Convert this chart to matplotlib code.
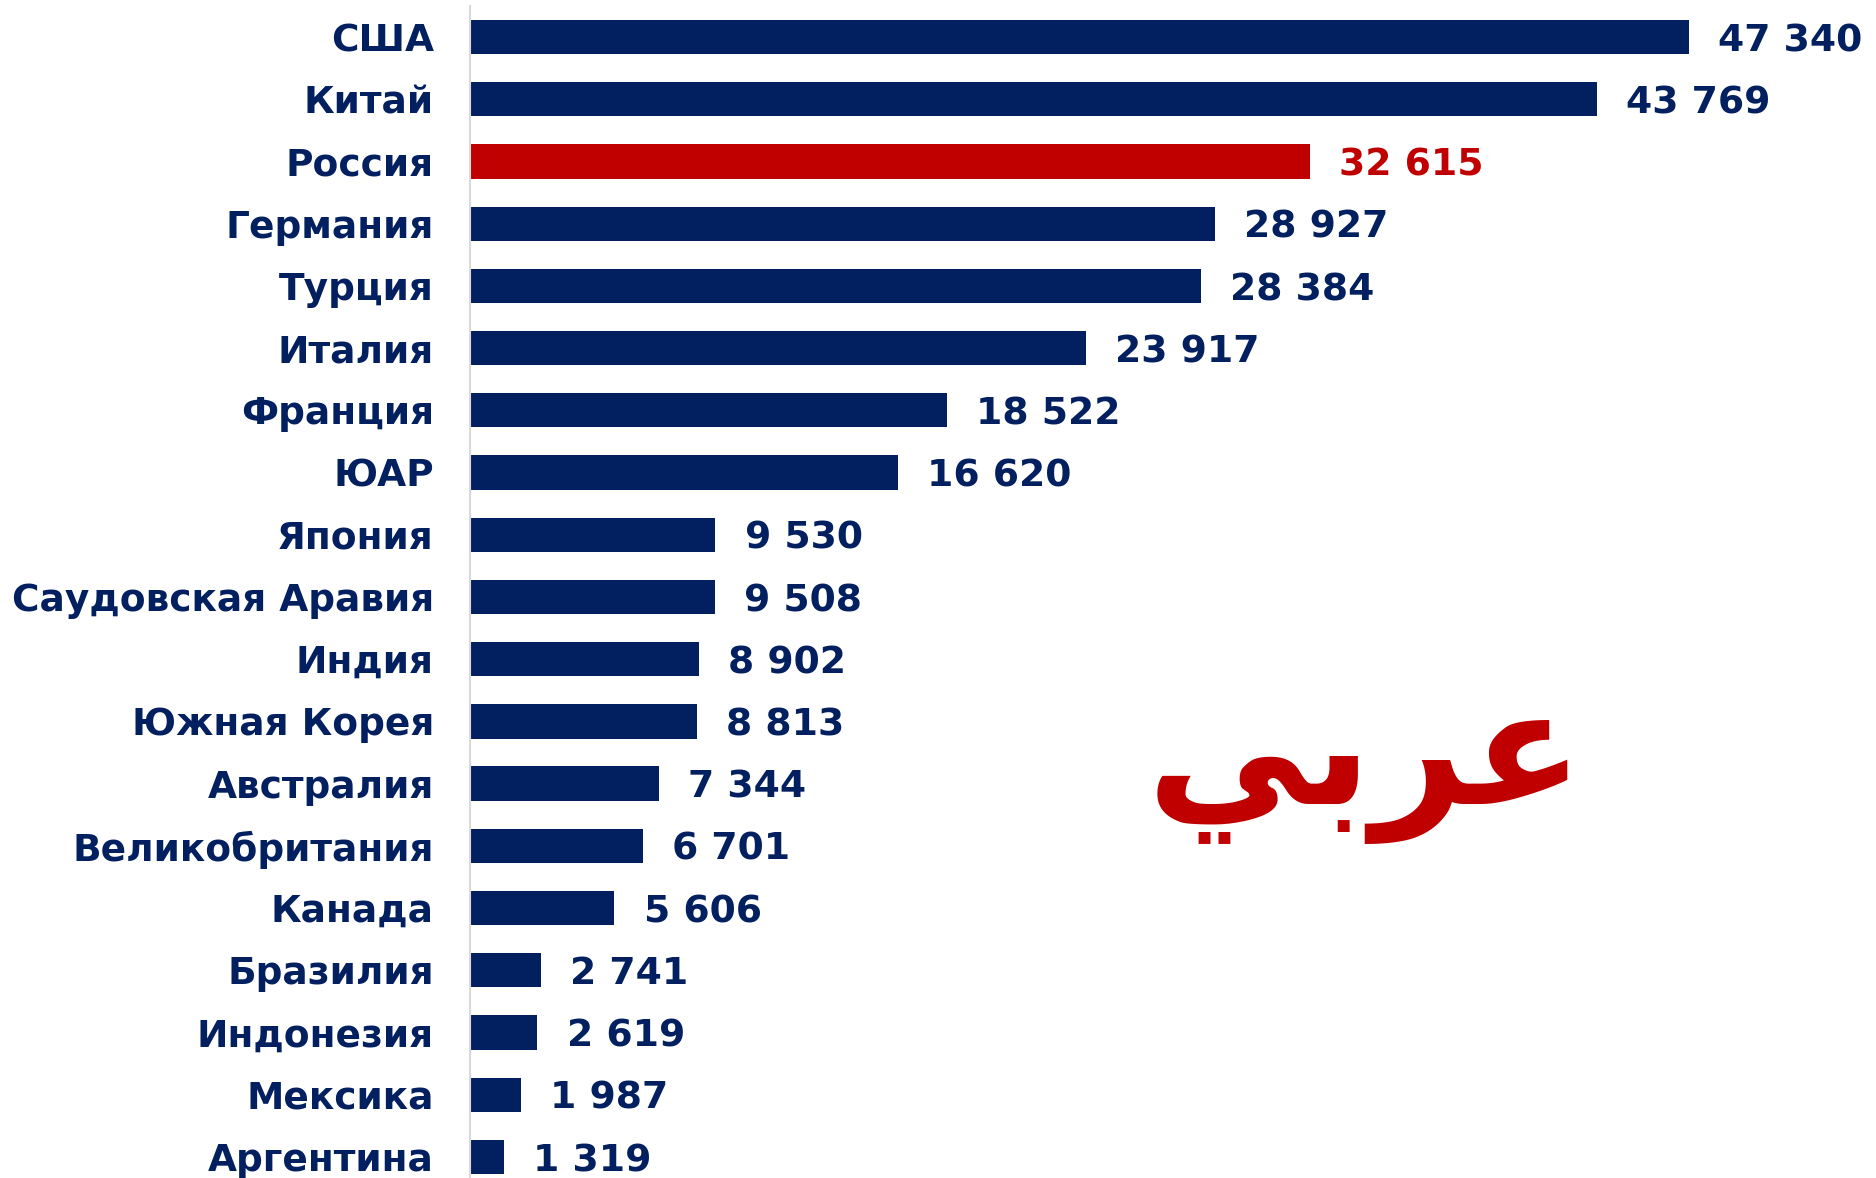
import matplotlib
matplotlib.use("Agg")
import matplotlib.pyplot as plt

categories = ["США", "Китай", "Россия", "Германия", "Турция", "Италия", "Франция", "ЮАР",
              "Япония", "Саудовская Аравия", "Индия", "Южная Корея", "Австралия",
              "Великобритания", "Канада", "Бразилия", "Индонезия", "Мексика", "Аргентина"]
values = [47340, 43769, 32615, 28927, 28384, 23917, 18522, 16620, 9530, 9508, 8902,
          8813, 7344, 6701, 5606, 2741, 2619, 1987, 1319]
highlight = "Россия"
watermark = "\uFEF2\uFE91\uFEAE\uFECB"  # "عربي" in presentation forms, visual order

NAVY = "#02205F"
RED = "#C00000"

plt.rcParams['font.family'] = ['DejaVu Sans']

W, H = 1876, 1178
fig = plt.figure(figsize=(W / 100, H / 100), dpi=100)
ax = fig.add_axes([470 / W, 0, 1 - 470 / W, 1 - 6 / H])

ypos = list(range(len(categories)))
colors = [RED if c == highlight else NAVY for c in categories]
ax.barh(ypos, values, height=0.55, color=colors, zorder=2)

ax.set_ylim(18.34, -0.5)
ax.set_xlim(0, 54600)

for y, v, c in zip(ypos, values, colors):
    ax.annotate(f"{v:,}".replace(",", " "), xy=(v, y), xytext=(21, -3),
                textcoords="offset points", va="center", ha="left",
                fontsize=27.2, fontweight="bold", color=c)

ax.set_yticks(ypos)
ax.set_yticklabels(categories, fontsize=27, fontweight="bold", color=NAVY)
ax.tick_params(axis="y", length=0, pad=26)
ax.set_xticks([])
for s in ["top", "right", "bottom"]:
    ax.spines[s].set_visible(False)
ax.spines["left"].set_color("#D9D9D9")
ax.spines["left"].set_linewidth(1.5)

fig.text(1365 / W, 1 - 766 / H, watermark, fontsize=117, fontweight="bold",
         color=RED, ha="center", va="center", family=["DejaVu Sans"])

fig.savefig("out.png", dpi=100, facecolor="white")
